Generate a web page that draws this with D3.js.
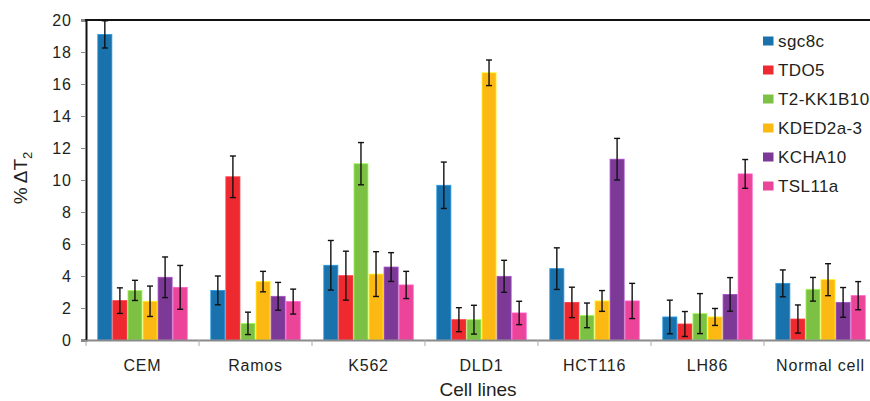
<!DOCTYPE html>
<html>
<head>
<meta charset="utf-8">
<script src="https://cdn.jsdelivr.net/npm/d3@7"></script>
<style>
  html, body { margin: 0; padding: 0; background: #fff; }
  svg { display: block; font-family: "Liberation Sans", Arial, Helvetica, sans-serif; }
</style>
</head>
<body>
<svg id="chart" width="870" height="401"></svg>
<script>
const categories = ["CEM", "Ramos", "K562", "DLD1", "HCT116", "LH86", "Normal cell"];
const seriesNames = ["sgc8c", "TDO5", "T2-KK1B10", "KDED2a-3", "KCHA10", "TSL11a"];
const seriesColors = ["#1a72ad", "#ee2a30", "#7cc143", "#fdb913", "#7c3a96", "#ec4499"];

// mean values per series, one entry per category
const sgc8c     = [19.1, 3.1, 4.67, 9.67, 4.46, 1.44, 3.54];
const TDO5      = [2.46, 10.2, 4.02, 1.27, 2.35, 1.0, 1.31];
const T2KK1B10  = [3.1, 1.04, 11.02, 1.27, 1.54, 1.65, 3.17];
const KDED2a3   = [2.42, 3.65, 4.12, 16.7, 2.44, 1.44, 3.77];
const KCHA10    = [3.92, 2.73, 4.56, 3.98, 11.3, 2.85, 2.35];
const TSL11a    = [3.29, 2.4, 3.44, 1.69, 2.44, 10.38, 2.77];

// error (half-length of the error bar)
const sgc8cErr    = [0.85, 0.9, 1.55, 1.45, 1.3, 1.05, 0.84];
const TDO5Err     = [0.8, 1.3, 1.53, 0.75, 0.95, 0.78, 0.88];
const T2KK1B10Err = [0.63, 0.7, 1.32, 0.9, 0.77, 1.25, 0.74];
const KDED2a3Err  = [0.95, 0.64, 1.4, 0.8, 0.65, 0.53, 1.0];
const KCHA10Err   = [1.27, 0.87, 0.9, 1.0, 1.3, 1.05, 0.93];
const TSL11aErr   = [1.37, 0.78, 0.85, 0.73, 1.1, 0.9, 0.88];

const yTicks = [0, 2, 4, 6, 8, 10, 12, 14, 16, 18, 20];

const seriesValues = [sgc8c, TDO5, T2KK1B10, KDED2a3, KCHA10, TSL11a];
const seriesErrors = [sgc8cErr, TDO5Err, T2KK1B10Err, KDED2a3Err, KCHA10Err, TSL11aErr];

const svg = d3.select("#chart");
const mLeft = 86, mTop = 20, mBottom = 340, mRight = 877;

const x0 = d3.scaleBand().domain(categories).range([mLeft, mRight]).paddingInner(0.2).paddingOuter(0.1);
const x1 = d3.scaleBand().domain(seriesNames).range([0, x0.bandwidth()]);
const y = d3.scaleLinear().domain([0, 20]).range([mBottom, mTop]);

// bars
const groups = svg.append("g").selectAll("g")
  .data(categories).join("g")
  .attr("transform", d => `translate(${x0(d)},0)`);

groups.each(function(cat, ci) {
  const g = d3.select(this);
  seriesNames.forEach((s, si) => {
    const v = seriesValues[si][ci];
    const e = seriesErrors[si][ci];
    const bx = x1(s);
    g.append("rect")
      .attr("x", bx + 0.5)
      .attr("y", y(v))
      .attr("width", x1.bandwidth() - 1)
      .attr("height", y(0) - y(v))
      .attr("fill", seriesColors[si])
      .attr("stroke", d3.color(seriesColors[si]).brighter(0.8))
      .attr("stroke-width", 0.8);
    const cx = bx + x1.bandwidth() / 2;
    const eb = g.append("g").attr("stroke", "#111").attr("stroke-width", 1.4);
    eb.append("line").attr("x1", cx).attr("x2", cx).attr("y1", y(v + e)).attr("y2", y(v - e));
    eb.append("line").attr("x1", cx - 3).attr("x2", cx + 3).attr("y1", y(v + e)).attr("y2", y(v + e));
    eb.append("line").attr("x1", cx - 3).attr("x2", cx + 3).attr("y1", y(v - e)).attr("y2", y(v - e));
  });
});

// y axis
const yAxis = svg.append("g")
  .attr("transform", `translate(${mLeft},0)`)
  .call(d3.axisLeft(y).tickValues(yTicks).tickSize(5).tickPadding(9));
yAxis.select(".domain").attr("stroke", "#111").attr("stroke-width", 2);
yAxis.selectAll(".tick line").attr("stroke", "#888");
yAxis.selectAll(".tick text").attr("font-size", 16).attr("fill", "#231f20")
  .attr("font-family", "Liberation Sans, Arial, sans-serif").style("letter-spacing", "1px");

// top frame line
svg.append("line").attr("x1", mLeft - 1).attr("x2", 870).attr("y1", mTop).attr("y2", mTop)
  .attr("stroke", "#111").attr("stroke-width", 2);

// x axis
const xAxis = svg.append("g")
  .attr("transform", `translate(0,${mBottom})`)
  .call(d3.axisBottom(x0).tickSize(0).tickPadding(20));
xAxis.select(".domain").attr("stroke", "#8a8a8a").attr("stroke-width", 2);
xAxis.selectAll(".tick text").attr("font-size", 16).attr("fill", "#231f20")
  .attr("font-family", "Liberation Sans, Arial, sans-serif").style("letter-spacing", "0.8px");
// category boundary ticks
svg.append("g").selectAll("line")
  .data(categories).join("line")
  .attr("x1", d => x0(d) - x0.step() * 0.1)
  .attr("x2", d => x0(d) - x0.step() * 0.1)
  .attr("y1", mBottom).attr("y2", mBottom + 6)
  .attr("stroke", "#aaa").attr("stroke-width", 1);

// axis titles
svg.append("text")
  .attr("x", 478).attr("y", 396)
  .attr("text-anchor", "middle")
  .attr("font-size", 19).attr("fill", "#231f20")
  .text("Cell lines");

const yl = svg.append("text")
  .attr("transform", "translate(27,178) rotate(-90)")
  .attr("text-anchor", "middle")
  .attr("font-size", 19).attr("fill", "#231f20");
yl.append("tspan").text("% ΔT");
yl.append("tspan").attr("font-size", 13).attr("dy", 5).text("2");

// legend
const legend = svg.append("g").selectAll("g")
  .data(seriesNames).join("g")
  .attr("transform", (d, i) => `translate(763,${41 + i * 29})`);
legend.append("rect").attr("x", 0).attr("y", -4.5).attr("width", 10.5).attr("height", 9)
  .attr("fill", (d, i) => seriesColors[i]);
legend.append("text").attr("x", 15).attr("y", 6)
  .attr("font-size", 17).attr("fill", "#231f20").style("letter-spacing", "0.4px")
  .text(d => d);
</script>
</body>
</html>
